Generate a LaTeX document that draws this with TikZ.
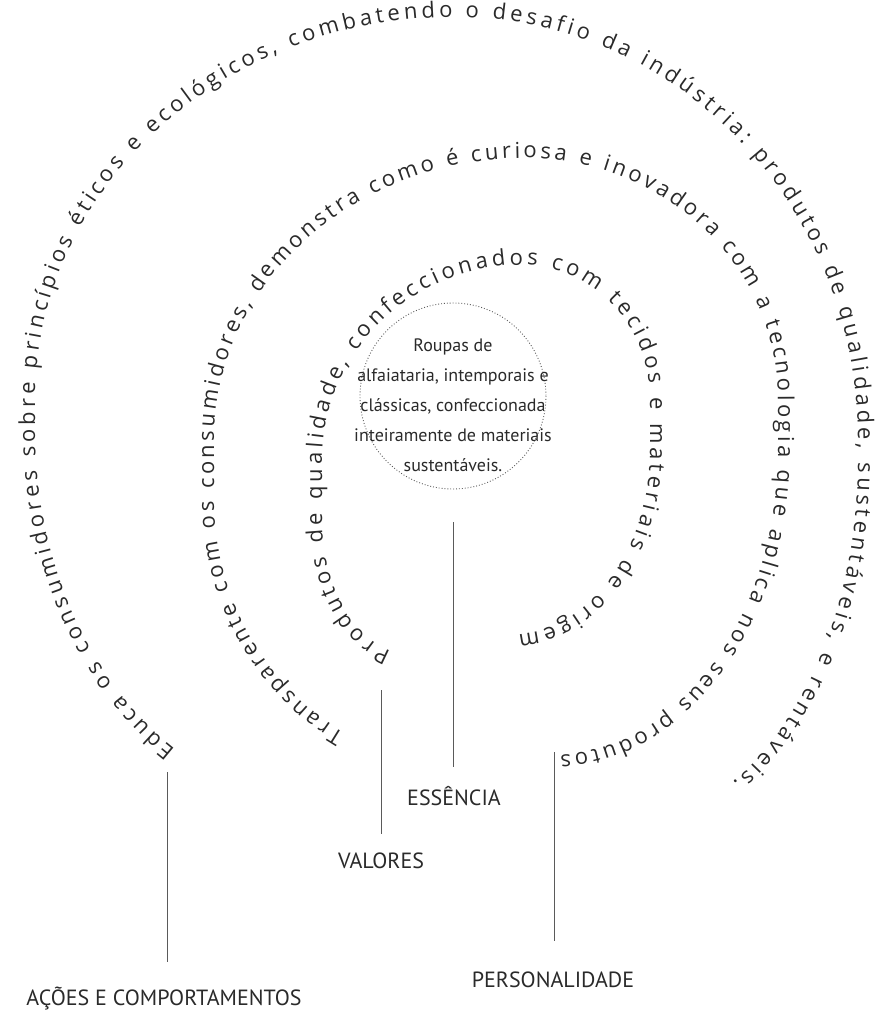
\documentclass[tikz,border=0pt]{standalone}
\usepackage{fontspec}
\usetikzlibrary{decorations.text}
\newfontfamily\arcfont{Open Sans}
\newfontfamily\labelfont{PT Sans}
\definecolor{ink}{HTML}{2A2A2A}
\definecolor{rule}{HTML}{5A5A5A}

% Each ring of text runs clockwise: a lower-left quarter ellipse, a straight left
% side, upper-left and upper-right quarter ellipses, a straight right side and a
% lower-right quarter ellipse.
\tikzset{
  stem/.style={draw=rule,line width=0.9pt},
  tag/.style={font=\labelfont\fontsize{22}{26}\selectfont,text=ink,inner sep=0pt},
  core/.style={draw=rule,dotted,line width=0.9pt},
  coretext/.style={font=\labelfont\fontsize{18}{30}\selectfont,text=ink,align=center,inner sep=0pt},
  ringpath/.style={decorate,decoration={text along path,text align={fit to path},
        text color=ink,text={|\arcfont\fontsize{22}{26}\selectfont|#1}}}
}

\begin{document}
\begin{tikzpicture}[x=1pt,y=-1pt]
\useasboundingbox (0,0) rectangle (893,1012);

% essence circle and its text
\draw[core] (453,396) circle[radius=93];
\node[coretext] (essencia text) at (453,405)
  {Roupas de\\alfaiataria, intemporais e\\clássicas, confeccionada\\inteiramente de materiais\\sustentáveis.};

% inner ring: values
\path[ringpath={Produtos de qualidade, confeccionados com tecidos e materiais de origem}]
  ({412+90*cos(103.5)},{520+135*sin(103.5)})
  arc[start angle=103.5,end angle=180,x radius=90,y radius=135]
  -- (322,460)
  arc[start angle=180,end angle=270,x radius=200,y radius=195]
  arc[start angle=270,end angle=360,x radius=128,y radius=135]
  -- (650,450)
  arc[start angle=0,end angle=86.6,x radius=140,y radius=185];

% middle ring: personality
\path[ringpath={Transparente com os consumidores, demonstra como é curiosa e inovadora com a tecnologia que aplica nos seus produtos}]
  ({471+257*cos(119.5)},{500+268*sin(119.5)})
  arc[start angle=119.5,end angle=180,x radius=257,y radius=268]
  -- (214,440)
  arc[start angle=180,end angle=270,x radius=311,y radius=282]
  arc[start angle=270,end angle=360,x radius=253,y radius=242]
  -- (778,450)
  arc[start angle=0,end angle=88.1,x radius=225,y radius=305];

% outer ring: actions and behaviours
\path[ringpath={Educa os consumidores sobre princípios éticos e ecológicos, combatendo o desafio da indústria: produtos de qualidade, sustentáveis, e rentáveis.}]
  ({335+300*cos(122.2)},{430+378*sin(122.2)})
  arc[start angle=122.2,end angle=180,x radius=300,y radius=378]
  -- (35,400)
  arc[start angle=180,end angle=270,x radius=420,y radius=383]
  arc[start angle=270,end angle=360,x radius=403,y radius=423]
  -- (858,460)
  arc[start angle=0,end angle=61.1,x radius=242,y radius=368];

% labels
\node[tag] (essencia) at (454,796) {ESSÊNCIA};
\node[tag] (valores) at (381,861) {VALORES};
\node[tag] (personalidade) at (553,980) {PERSONALIDADE};
\node[tag] (acoes) at (164,999) {AÇÕES E COMPORTAMENTOS};

% leader lines
\coordinate (e top) at (453,522);  \coordinate (e end) at (453,767);
\coordinate (v top) at (381,690);  \coordinate (v end) at (381,834);
\coordinate (p top) at (554,752);  \coordinate (p end) at (554,941);
\coordinate (a top) at (167,772);  \coordinate (a end) at (167,962);
\draw[stem] (e top) -- (e end);
\draw[stem] (v top) -- (v end);
\draw[stem] (p top) -- (p end);
\draw[stem] (a top) -- (a end);
\end{tikzpicture}
\end{document}
